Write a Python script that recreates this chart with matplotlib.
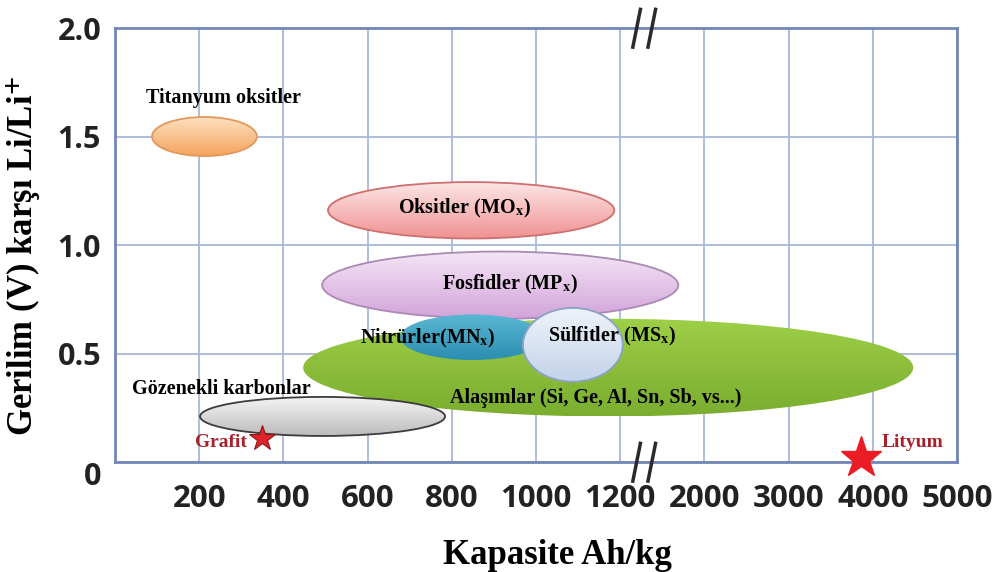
import numpy as np
import matplotlib
matplotlib.use("Agg")
import matplotlib.pyplot as plt
from matplotlib.patches import Ellipse
from matplotlib.colors import LinearSegmentedColormap
import matplotlib.transforms as mtransforms

# capacity ticks (Ah/kg), axis is broken between 1200 and 2000
cap_ticks = [200, 400, 600, 800, 1000, 1200, 2000, 3000, 4000, 5000]
volt_ticks = [0, 0.5, 1.0, 1.5, 2.0]
volt_labels = ["0", "0.5", "1.0", "1.5", "2.0"]

# material regions: capacity range (Ah/kg) and voltage range (V vs Li/Li+)
regions = ["Alaşımlar", "Fosfidler", "Oksitler", "Titanyum oksitler",
           "Gözenekli karbonlar", "Nitrürler", "Sülfitler"]
cap_min = [447, 492, 506, 88, 202, 677, 969]
cap_max = [4480, 1752, 1186, 337, 784, 1021, 1224]
volt_min = [0.21, 0.66, 1.03, 1.41, 0.12, 0.47, 0.37]
volt_max = [0.66, 0.97, 1.29, 1.59, 0.30, 0.68, 0.71]

# reference electrodes (stars)
stars = ["Grafit", "Lityum"]
star_cap = [350, 3860]
star_volt = [0.111, 0.018]


def cap_to_pos(c):  # map capacity to position on the broken axis
    return np.interp(c, [0] + cap_ticks, np.arange(len(cap_ticks) + 1))


plt.rcParams['mathtext.fontset'] = 'stix'

fig = plt.figure(figsize=(10.06, 5.72), dpi=100)
ax = fig.add_axes([0.1143, 0.1923, 0.8370, 0.7587])
ax.set_xlim(0, 10)
ax.set_ylim(0, 2)

# colours for each region: (top of gradient, bottom of gradient, edge)
styles = [
    ("#9dcf48", "#7bad2f", "none"),
    ("#f4e6f6", "#d3a3da", "#a98ab4"),
    ("#fde6e6", "#ef9191", "#cf6f6f"),
    ("#fde2c4", "#f4a35c", "#e3985a"),
    ("#f6f5f5", "#bdbbbb", "#3c3c3c"),
    ("#5bb8d4", "#2c8db0", "none"),
    ("#eef3fa", "#c3d3ea", "#8aa2c6"),
]
zorders = [3, 4, 5, 5, 5, 6, 7]

for i in range(len(regions)):
    p0 = cap_to_pos(cap_min[i])
    p1 = cap_to_pos(cap_max[i])
    top, bot, edge = styles[i]
    ell = Ellipse(((p0 + p1) / 2, (volt_min[i] + volt_max[i]) / 2), p1 - p0,
                  volt_max[i] - volt_min[i], facecolor='none', edgecolor=edge,
                  lw=1.3, zorder=zorders[i] + 0.5)
    ax.add_patch(ell)
    cmap = LinearSegmentedColormap.from_list("g%d" % i, [bot, top])
    grad = np.linspace(0, 1, 100).reshape(-1, 1)
    im = ax.imshow(grad, extent=[p0, p1, volt_min[i], volt_max[i]], origin='lower',
                   aspect='auto', cmap=cmap, zorder=zorders[i])
    im.set_clip_path(ell)

ax.set_xlim(0, 10)
ax.set_ylim(0, 2)

# labels
lab_font = dict(family='Liberation Serif', weight='bold', fontsize=14.5, zorder=10)
ax.text(cap_to_pos(257), 1.677, "Titanyum oksitler", ha='center', va='center', **lab_font)
ax.text(cap_to_pos(831), 1.17, r"Oksitler (MO$_{\mathbf{x}}$)", ha='center', va='center', **lab_font)
ax.text(cap_to_pos(938), 0.816, r"Fosfidler (MP$_{\mathbf{x}}$)", ha='center', va='center', **lab_font)
ax.text(cap_to_pos(743), 0.567, r"Nitrürler(MN$_{\mathbf{x}}$)", ha='center', va='center', **lab_font)
ax.text(cap_to_pos(1180), 0.58, r"Sülfitler (MS$_{\mathbf{x}}$)", ha='center', va='center', **lab_font)
ax.text(cap_to_pos(1142), 0.295, "Alaşımlar (Si, Ge, Al, Sn, Sb, vs...)", ha='center', va='center', **lab_font)
ax.text(cap_to_pos(252), 0.336, "Gözenekli karbonlar", ha='center', va='center', **lab_font)

# stars
ax.plot(cap_to_pos(star_cap[0]), star_volt[0], marker='*', ms=19, color='#e0222a',
        mec='#8a1a1a', mew=0.8, zorder=11, clip_on=False)
ax.plot(cap_to_pos(star_cap[1]), star_volt[1], marker='*', ms=31, color='#ec1c24',
        mec='#ec1c24', zorder=11, clip_on=False)
ax.text(cap_to_pos(314), 0.088, stars[0], ha='right', va='center', color='#a8202a',
        family='Liberation Serif', weight='bold', fontsize=14, zorder=12)
ax.text(cap_to_pos(4110), 0.088, stars[1], ha='left', va='center', color='#a8202a',
        family='Liberation Serif', weight='bold', fontsize=14, zorder=12)

# grid and frame
ax.set_xticks(np.arange(1, len(cap_ticks) + 1))
ax.set_xticklabels([str(c) for c in cap_ticks])
ax.set_yticks(volt_ticks)
ax.set_yticklabels(volt_labels)
ax.grid(True, color='#a9b7d8', lw=1.3, zorder=0)
ax.set_axisbelow(True)
for s in ax.spines.values():
    s.set_color('#7486b8')
    s.set_linewidth(2)
ax.tick_params(length=0)
ax.tick_params(axis='x', pad=16)
ax.tick_params(axis='y', pad=10)
for lab in ax.get_xticklabels():
    lab.set_family('Open Sans')
    lab.set_weight('bold')
    lab.set_fontsize(22.5)
    lab.set_color('#222222')
for lab in ax.get_yticklabels():
    lab.set_family('Open Sans')
    lab.set_weight('bold')
    lab.set_fontsize(22)
    lab.set_color('#222222')
ax.get_yticklabels()[0].set_va('top')

ax.set_xlabel("Kapasite Ah/kg", family='Liberation Serif', weight='bold', fontsize=25)
ax.set_ylabel(r"Gerilim (V) karşı Li/Li$^{\mathbf{+}}$", family='Liberation Serif',
              weight='bold', fontsize=25)
ax.xaxis.set_label_coords(0.526, -0.178)
ax.yaxis.set_label_coords(-0.0855, 0.474)

# axis break marks
trans = mtransforms.blended_transform_factory(ax.transData, ax.transAxes)
for yc in (1.0, 0.0):
    for dx in (0.0, 0.18):
        ax.plot([6.15 + dx, 6.24 + dx], [yc - 0.044, yc + 0.043], color='#2a2a2a',
                lw=2.5, transform=trans, clip_on=False, zorder=15)

fig.savefig("out.png", dpi=100)
